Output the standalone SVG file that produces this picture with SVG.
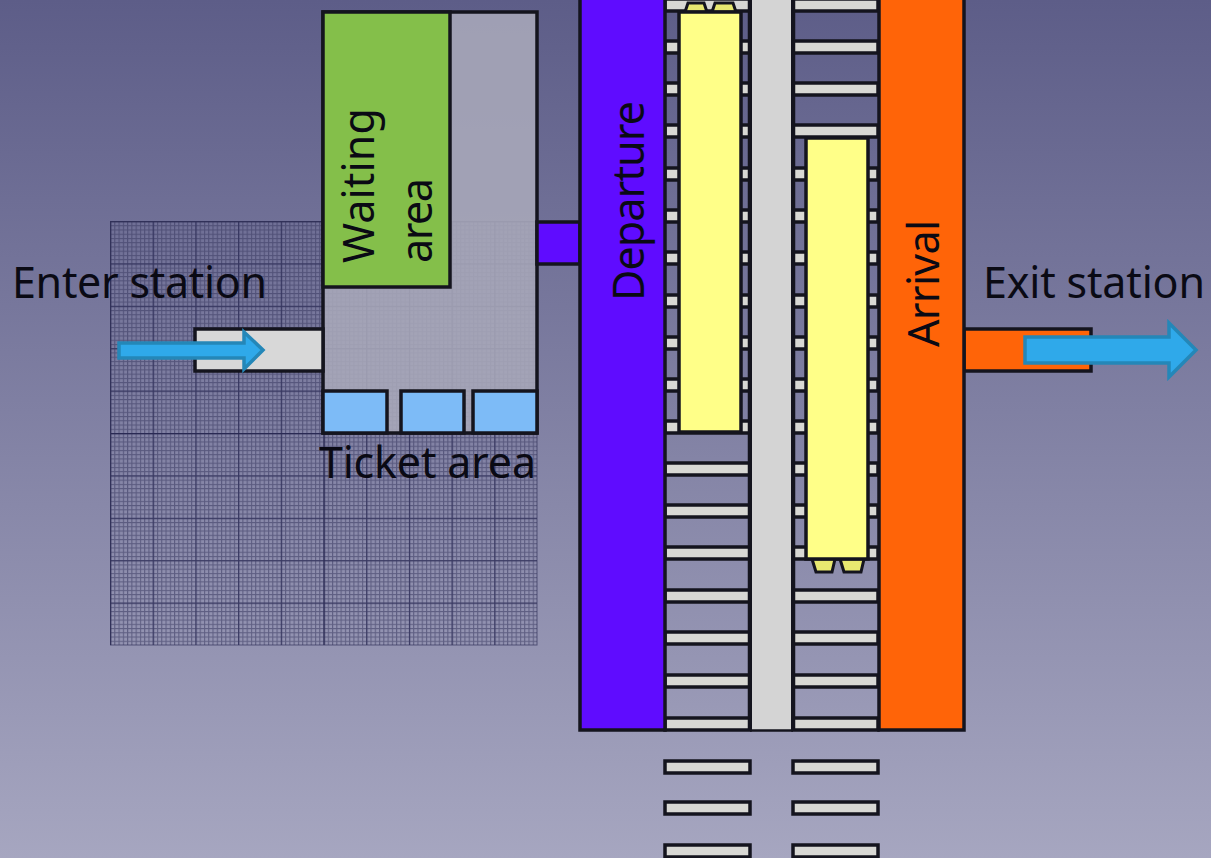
<svg xmlns="http://www.w3.org/2000/svg" width="1211" height="858" viewBox="0 0 1211 858">
<style>
.t{font-family:"Noto Sans","Open Sans",sans-serif;font-size:43px;fill:#0a0a14}
.s{stroke:#14141e;stroke-width:3.500}
.tie{fill:#d8d8d4;stroke:#14141e;stroke-width:3.500}
.rail{stroke:#14141e;stroke-width:4.500}
.train{fill:#ffff88;stroke:#14141e;stroke-width:3.500}
.cpl{fill:#e8e870;stroke:#14141e;stroke-width:3}
.arrow{fill:#2fa9ea;stroke:#2487b8;stroke-width:3.500}
</style>
<defs>
<linearGradient id="bg" x1="0" y1="0" x2="0" y2="1"><stop offset="0" stop-color="#5d5d88"/><stop offset="1" stop-color="#a6a6c0"/></linearGradient>
<pattern id="minor" x="110" y="221" width="4.27" height="4.24" patternUnits="userSpaceOnUse"><path d="M0 .5H4.27M.5 0V4.24" fill="none" stroke="#34345c" stroke-width="1.200" stroke-opacity=".55"/></pattern>
<pattern id="major" x="110" y="221" width="42.7" height="42.4" patternUnits="userSpaceOnUse"><path d="M0 .5H42.7M.5 0V42.4" fill="none" stroke="#2c2c56" stroke-width="1.400" stroke-opacity=".75"/></pattern>
<pattern id="big" x="110" y="221" width="213.5" height="212" patternUnits="userSpaceOnUse"><path d="M0 .5H213.5M.5 0V212" fill="none" stroke="#20204a" stroke-width="1.400" stroke-opacity=".6"/></pattern>
</defs>
<rect id="background" width="1211" height="858" fill="url(#bg)"/>
<g id="grid"><rect x="110" y="221" width="427" height="424" fill="url(#minor)"/><rect x="110" y="221" width="427" height="424" fill="url(#major)"/><rect x="110" y="221" width="427" height="424" fill="url(#big)"/><rect x="110.500" y="221.500" width="426.500" height="423.500" fill="none" stroke="#34345c" stroke-opacity=".7"/></g>
<g id="station-hall"><rect x="323" y="12" width="214" height="421" fill="#a9a9b9" fill-opacity=".88" class="s"/></g>
<g id="entrance"><rect x="195" y="329" width="128" height="42" fill="#d8d8d8" class="s"/></g>
<g id="exit"><rect x="964" y="329" width="127" height="42" fill="#ff6408" class="s"/></g>
<g id="waiting-area"><rect x="323" y="12" width="127" height="275" fill="#84bf4a" class="s"/><text class="t" transform="translate(374 263) rotate(-90)" textLength="155">Waiting</text><text class="t" transform="translate(432 263) rotate(-90)" textLength="85">area</text></g>
<g id="ticket-booths"><rect x="323" y="391" width="64" height="42" fill="#7dbbf7" class="s"/><rect x="401" y="391" width="63" height="42" fill="#7dbbf7" class="s"/><rect x="473" y="391" width="64" height="42" fill="#7dbbf7" class="s"/></g>
<g id="link"><rect x="537" y="222" width="43" height="42" fill="#5f0cff" class="s"/></g>
<g id="tracks">
<g id="ties">
<rect class="tie" x="665" y="-1" width="85" height="12"/><rect class="tie" x="793" y="-1" width="85" height="12"/>
<rect class="tie" x="665" y="41" width="85" height="12"/><rect class="tie" x="793" y="41" width="85" height="12"/>
<rect class="tie" x="665" y="83" width="85" height="12"/><rect class="tie" x="793" y="83" width="85" height="12"/>
<rect class="tie" x="665" y="125" width="85" height="12"/><rect class="tie" x="793" y="125" width="85" height="12"/>
<rect class="tie" x="665" y="168" width="85" height="12"/><rect class="tie" x="793" y="168" width="85" height="12"/>
<rect class="tie" x="665" y="210" width="85" height="12"/><rect class="tie" x="793" y="210" width="85" height="12"/>
<rect class="tie" x="665" y="252" width="85" height="12"/><rect class="tie" x="793" y="252" width="85" height="12"/>
<rect class="tie" x="665" y="295" width="85" height="12"/><rect class="tie" x="793" y="295" width="85" height="12"/>
<rect class="tie" x="665" y="337" width="85" height="12"/><rect class="tie" x="793" y="337" width="85" height="12"/>
<rect class="tie" x="665" y="379" width="85" height="12"/><rect class="tie" x="793" y="379" width="85" height="12"/>
<rect class="tie" x="665" y="421" width="85" height="12"/><rect class="tie" x="793" y="421" width="85" height="12"/>
<rect class="tie" x="665" y="463" width="85" height="12"/><rect class="tie" x="793" y="463" width="85" height="12"/>
<rect class="tie" x="665" y="505" width="85" height="12"/><rect class="tie" x="793" y="505" width="85" height="12"/>
<rect class="tie" x="665" y="547" width="85" height="12"/><rect class="tie" x="793" y="547" width="85" height="12"/>
<rect class="tie" x="665" y="590" width="85" height="12"/><rect class="tie" x="793" y="590" width="85" height="12"/>
<rect class="tie" x="665" y="632" width="85" height="12"/><rect class="tie" x="793" y="632" width="85" height="12"/>
<rect class="tie" x="665" y="675" width="85" height="12"/><rect class="tie" x="793" y="675" width="85" height="12"/>
<rect class="tie" x="665" y="718" width="85" height="12"/><rect class="tie" x="793" y="718" width="85" height="12"/>
<rect class="tie" x="665" y="761" width="85" height="12"/><rect class="tie" x="793" y="761" width="85" height="12"/>
<rect class="tie" x="665" y="802" width="85" height="12"/><rect class="tie" x="793" y="802" width="85" height="12"/>
<rect class="tie" x="665" y="845" width="85" height="12"/><rect class="tie" x="793" y="845" width="85" height="12"/>
</g>
<path class="rail" d="M750 0V730M793 0V730" fill="none"/>
</g>
<g id="central-platform"><rect x="752" y="-2" width="39" height="732" fill="#d4d4d4"/><path d="M750 730.500H793" stroke="#14141e" stroke-width="2.500"/></g>
<g id="departure-train"><path d="M685 12L688 3H704L707 12ZM712 12L715 3H733L736 12Z" class="cpl"/><rect class="train" x="679" y="12" width="62" height="420"/></g>
<g id="arrival-train"><path d="M812 559L816 572H832L835 559ZM840 559L844 572H861L864 559Z" class="cpl"/><rect class="train" x="806" y="138" width="62" height="421"/></g>
<g id="departure"><rect x="580" y="-3" width="85" height="733" fill="#5f0cff" class="s"/><text class="t" transform="translate(644 301) rotate(-90)" textLength="200">Departure</text></g>
<g id="arrival"><rect x="879" y="-3" width="85" height="733" fill="#ff6408" class="s"/><text class="t" transform="translate(939 347) rotate(-90)" textLength="127">Arrival</text></g>
<g id="connectors">
<path class="arrow" d="M119 343H244V332L263 350L244 369V358H119Z"/>
<path class="arrow" d="M1025 337H1169V323L1196 350L1169 377V363H1025Z"/>
</g>
<g id="labels">
<text class="t" x="12" y="298" textLength="255">Enter station</text>
<text class="t" x="319" y="478" textLength="217">Ticket area</text>
<text class="t" x="983" y="298" textLength="222">Exit station</text>
</g>
</svg>
